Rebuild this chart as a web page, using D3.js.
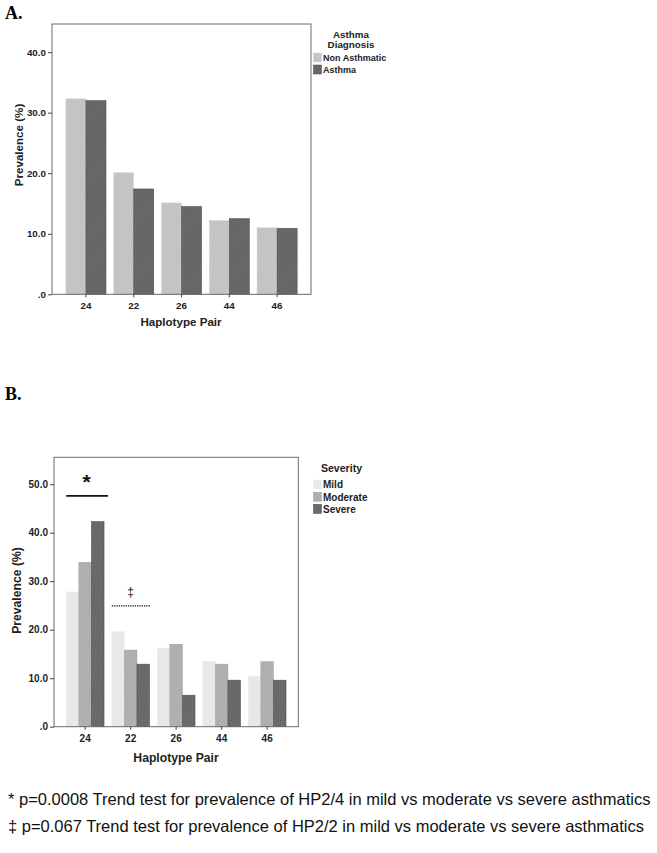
<!DOCTYPE html>
<html><head><meta charset="utf-8">
<script src="https://cdn.jsdelivr.net/npm/d3@7"></script>
<style>
body{margin:0;background:#fff;}
</style></head>
<body><svg id="c" width="657" height="853" style="font-family:'Liberation Sans',Arial,sans-serif"></svg>
<script>
// ---- Data ----
const categories = ["24","22","26","44","46"];
const seriesA = ["Non Asthmatic","Asthma"];
const nonAsthmatic = [32.3, 20.1, 15.1, 12.2, 11.0];
const asthma = [32.0, 17.4, 14.5, 12.5, 10.9];
const seriesB = ["Mild","Moderate","Severe"];
const mild = [27.8, 19.6, 16.2, 13.5, 10.4];
const moderate = [33.9, 15.8, 17.0, 12.9, 13.4];
const severe = [42.3, 12.9, 6.5, 9.6, 9.6];
const ticksA = [0,10,20,30,40];
const ticksB = [0,10,20,30,40,50];
const footnotes = [
 "* p=0.0008 Trend test for prevalence of HP2/4 in mild vs moderate vs severe asthmatics",
 "\u2021 p=0.067 Trend test for prevalence of HP2/2 in mild vs moderate vs severe asthmatics"
];

const svg = d3.select("#c");
const defs = svg.append("defs");
function hatch(id, bg, line, spacing){
  const p = defs.append("pattern").attr("id",id).attr("patternUnits","userSpaceOnUse")
    .attr("width",spacing).attr("height",spacing).attr("patternTransform","rotate(45)");
  p.append("rect").attr("width",spacing).attr("height",spacing).attr("fill",bg);
  if(line) p.append("line").attr("x1",0).attr("y1",0).attr("x2",0).attr("y2",spacing)
    .attr("stroke",line).attr("stroke-width",1);
}
hatch("pNA","#c8c8c8","#b4b4b4",2.5);
hatch("pAS","#6e6e6e","#4a4a4a",2.5);
hatch("pMI","#e8e8e8",null,3);
hatch("pMO","#b4b4b4","#9c9c9c",2.5);
hatch("pSE","#707070","#4e4e4e",2.5);

const fmt = v => v===0 ? ".0" : v.toFixed(1);
const SANS = "'Liberation Sans', Arial, sans-serif";
const SERIF = "'Liberation Serif', 'Times New Roman', serif";

function panel(o){
  const g = svg.append("g");
  const x0 = d3.scaleBand().domain(categories).range([o.left,o.right]).paddingInner(o.pi).paddingOuter(o.po);
  const x1 = d3.scaleBand().domain(o.series).range([0,x0.bandwidth()]);
  const y = d3.scaleLinear().domain([0,o.ymax]).range([o.bottom,o.top]);
  o.series.forEach((s,si)=>{
    g.selectAll(null).data(o.values[si]).enter().append("rect")
      .attr("x",(d,i)=>x0(categories[i])+x1(s))
      .attr("y",d=>y(d)).attr("width",x1.bandwidth()).attr("height",d=>y(0)-y(d))
      .attr("fill",`url(#${o.pats[si]})`).attr("stroke",o.strokes[si]).attr("stroke-width",0.5);
  });
  g.append("rect").attr("x",o.left).attr("y",o.top).attr("width",o.right-o.left).attr("height",o.bottom-o.top)
    .attr("fill","none").attr("stroke","#6a6a6a").attr("stroke-width",1);
  const ya = d3.axisLeft(y).tickValues(o.ticks).tickFormat(fmt).tickSize(4).tickPadding(2);
  const yg = g.append("g").attr("transform",`translate(${o.left},0)`).call(ya);
  yg.select(".domain").remove();
  yg.selectAll("line").attr("stroke","#444");
  yg.selectAll("text").style("font-size",o.tickFs+"px").style("font-weight","bold").style("fill","#222").style("font-family",SANS);
  const xa = d3.axisBottom(x0).tickSize(3).tickPadding(5);
  const xg = g.append("g").attr("transform",`translate(0,${o.bottom})`).call(xa);
  xg.select(".domain").remove();
  xg.selectAll("line").attr("stroke","#444");
  xg.selectAll("text").style("font-size",o.tickFs+"px").style("font-weight","bold").style("fill","#222").style("font-family",SANS);
  g.append("text").attr("transform",`translate(${o.ylabX},${o.ylabY}) rotate(-90)`)
    .attr("text-anchor","middle").attr("dominant-baseline","central")
    .style("font-size",o.labFs+"px").style("font-weight","bold").style("fill","#222").text("Prevalence (%)");
  g.append("text").attr("x",o.xlabX).attr("y",o.xlabY).attr("text-anchor","middle").attr("dominant-baseline","central")
    .style("font-size",o.labFs+"px").style("font-weight","bold").style("fill","#222").text("Haplotype Pair");
  o.legTitle.forEach((t,i)=>{
    g.append("text").attr("x",o.legTX).attr("y",o.legTY+i*10.5).attr("text-anchor","middle")
      .attr("dominant-baseline","central").style("font-size",o.legTFs+"px").style("font-weight","bold").style("fill","#222").text(t);
  });
  o.series.forEach((s,si)=>{
    const yy = o.legY + si*o.legStep;
    g.append("rect").attr("x",o.legX).attr("y",yy).attr("width",8).attr("height",9)
      .attr("fill",`url(#${o.pats[si]})`).attr("stroke",o.strokes[si]).attr("stroke-width",0.5);
    g.append("text").attr("x",o.legX+9.5).attr("y",yy+4.8).attr("dominant-baseline","central")
      .style("font-size",o.legFs+"px").style("font-weight","bold").style("fill","#222").text(s);
  });
  return {g,x0,x1,y};
}

// Panel A
svg.append("text").attr("x",5).attr("y",19).style("font-family",SERIF)
  .style("font-weight","bold").style("font-size","18px").text("A.");
panel({left:52,right:311,top:24,bottom:294.3,ymax:44.65,pi:0.16,po:0.29,
  series:seriesA,values:[nonAsthmatic,asthma],pats:["pNA","pAS"],strokes:["#d8d8d8","#444"],
  ticks:ticksA,ylabX:18,ylabY:145,xlabX:181,xlabY:321.7,tickFs:9.8,labFs:11.6,legTFs:9.8,legFs:9,
  legTitle:["Asthma","Diagnosis"],legTX:351,legTY:34,legX:313.5,legY:53,legStep:12});

// Panel B
svg.append("text").attr("x",5).attr("y",400).style("font-family",SERIF)
  .style("font-weight","bold").style("font-size","18px").text("B.");
const B = panel({left:54,right:298.3,top:457.3,bottom:726.7,ymax:55.55,pi:0.17,po:0.27,
  series:seriesB,values:[mild,moderate,severe],pats:["pMI","pMO","pSE"],strokes:["#eeeeee","#a0a0a0","#444"],
  ticks:ticksB,ylabX:17,ylabY:590.5,xlabX:176,xlabY:757.7,tickFs:10,labFs:12.2,legTFs:10.6,legFs:10,
  legTitle:["Severity"],legTX:341.5,legTY:468,legX:313.5,legY:480,legStep:12.2});

// significance annotations (panel B)
const c24 = B.x0("24"), c22 = B.x0("22");
B.g.append("line").attr("x1",c24).attr("x2",c24+B.x0.bandwidth()+4).attr("y1",B.y(47.6)).attr("y2",B.y(47.6))
  .attr("stroke","#111").attr("stroke-width",1.6);
B.g.append("text").attr("x",c24+B.x0.bandwidth()/2+1.5).attr("y",B.y(47.6)-7).attr("text-anchor","middle")
  .style("font-size","21px").style("font-weight","bold").style("fill","#111").style("font-family",SANS).text("*");
B.g.append("line").attr("x1",c22).attr("x2",c22+B.x0.bandwidth()+1).attr("y1",B.y(24.9)).attr("y2",B.y(24.9))
  .attr("stroke","#111").attr("stroke-width",1.3).attr("stroke-dasharray","1.3,1");
B.g.append("text").attr("x",c22+B.x0.bandwidth()/2).attr("y",B.y(24.9)-13.5).attr("text-anchor","middle")
  .attr("dominant-baseline","central").style("font-size","12px").style("fill","#111")
  .style("font-family",SANS).text("\u2021");

// footnotes
footnotes.forEach((t,i)=>{
  svg.append("text").attr("x",8).attr("y",799+i*27).attr("dominant-baseline","central")
    .style("font-size","16.5px").style("fill","#111").style("font-family",SANS).text(t);
});
</script></body></html>
